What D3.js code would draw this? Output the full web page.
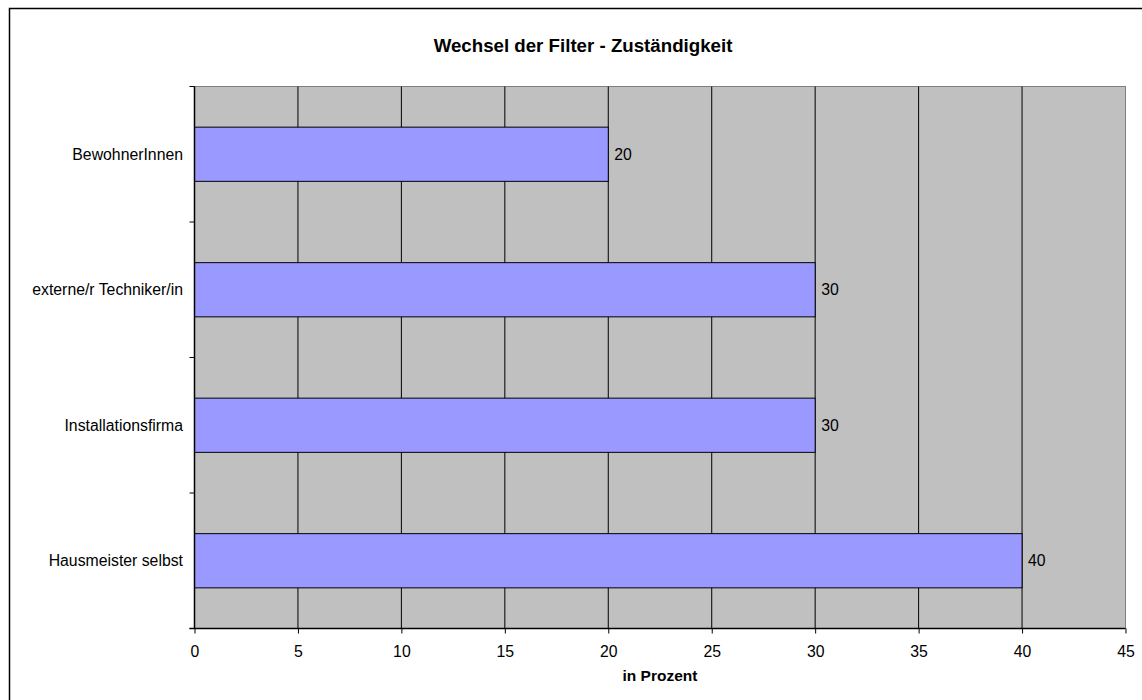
<!DOCTYPE html>
<html><head><meta charset="utf-8">
<script src="https://cdn.jsdelivr.net/npm/d3@7"></script>
<style>body{margin:0;background:#fff}svg{display:block;font-family:"Liberation Sans",Arial,sans-serif}</style>
</head><body>
<svg id="c" width="1142" height="700"></svg>
<script>
const categories = ["BewohnerInnen","externe/r Techniker/in","Installationsfirma","Hausmeister selbst"];
const values = [20,30,30,40];
const xTicks = [0,5,10,15,20,25,30,35,40,45];
const title = "Wechsel der Filter - Zuständigkeit";
const xTitle = "in Prozent";

const svg = d3.select("#c");
// outer frame
svg.append("rect").attr("x",9.5).attr("y",8.5).attr("width",1160).attr("height",720)
  .attr("fill","#fff").attr("stroke","#000").attr("stroke-width",1.5);

const L=194.5, R=1125.5, T=86.5, B=628.5;
const x = d3.scaleLinear().domain([0,45]).range([L,R]);
const y = d3.scaleBand().domain(categories).range([T,B]).paddingInner(0.6).paddingOuter(0.3);
const yb = d3.scaleBand().domain(categories).range([T,B]);

svg.append("rect").attr("x",L).attr("y",T).attr("width",R-L).attr("height",B-T)
  .attr("fill","#c0c0c0").attr("stroke","#808080").attr("stroke-width",1);

// gridlines
svg.append("g").selectAll("line").data(xTicks.filter(d=>d>0&&d<45)).join("line")
  .attr("x1",d=>x(d)).attr("x2",d=>x(d)).attr("y1",T).attr("y2",B)
  .attr("stroke","#000").attr("stroke-width",1);

// bars
svg.append("g").selectAll("rect").data(values).join("rect")
  .attr("x",x(0)).attr("y",(d,i)=>y(categories[i]))
  .attr("width",d=>x(d)-x(0)).attr("height",y.bandwidth())
  .attr("fill","#9999ff").attr("stroke","#000").attr("stroke-width",1);

// value labels
svg.append("g").selectAll("text").data(values).join("text")
  .attr("x",d=>x(d)+6).attr("y",(d,i)=>y(categories[i])+y.bandwidth()/2)
  .attr("dy","0.35em").attr("font-size",15.8).text(d=>d);

// x axis
const xa = svg.append("g").attr("transform",`translate(0,${B})`)
  .call(d3.axisBottom(x).tickValues(xTicks).tickSize(5));
xa.select(".domain").attr("stroke","#000").attr("stroke-width",1.5).attr("d",`M${L-5},0H${R}`);
xa.selectAll("text").attr("font-size",15.8).attr("font-family","Liberation Sans, Arial, sans-serif")
  .attr("fill","#000").attr("y",22.5).attr("dy","0.35em");

// y axis
const ya = svg.append("g").attr("transform",`translate(${L},0)`);
ya.append("line").attr("x1",0).attr("x2",0).attr("y1",T).attr("y2",B).attr("stroke","#000").attr("stroke-width",1.5);
ya.selectAll("line.t").data(d3.range(categories.length+1)).join("line").attr("class","t")
  .attr("x1",-5).attr("x2",0)
  .attr("y1",i=>T+i*yb.step()).attr("y2",i=>T+i*yb.step())
  .attr("stroke","#000");
ya.selectAll("text").data(categories).join("text")
  .attr("x",-11.5).attr("y",d=>yb(d)+yb.bandwidth()/2).attr("dy","0.35em")
  .attr("text-anchor","end").attr("font-size",15.8).text(d=>d);

svg.append("text").attr("x",583).attr("y",51.5).attr("text-anchor","middle")
  .attr("font-size",18.7).attr("font-weight","bold").text(title);
svg.append("text").attr("x",(L+R)/2).attr("y",681).attr("text-anchor","middle")
  .attr("font-size",15.5).attr("font-weight","bold").text(xTitle);
</script>
</body></html>
